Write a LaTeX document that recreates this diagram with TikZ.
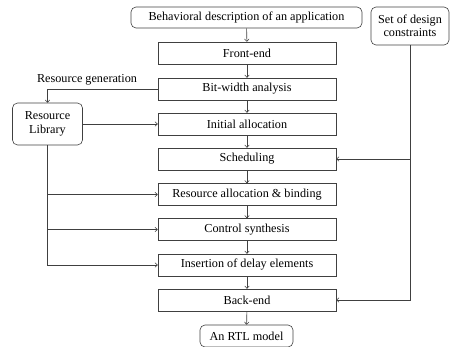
\documentclass[tikz,border=0pt]{standalone}
\usepackage{fontspec}
\setmainfont{Liberation Serif}
\usetikzlibrary{arrows.meta}
\begin{document}
\begin{tikzpicture}[x=1pt,y=-1pt,
  line width=0.6pt, draw=black!75,
  every node/.style={font=\fontsize{12.2}{13.5}\selectfont, text=black},
  stepbox/.style={draw=black!75, line width=0.6pt, minimum width=178pt, minimum height=22pt, inner sep=0pt},
  roundbox/.style={draw=black!75, line width=0.6pt, rounded corners=5pt, inner sep=0pt, align=center},
  arr/.style={draw=black!75, -{To[length=3pt,width=5pt]}}]
\useasboundingbox (0,0) rectangle (453,347);
\node[roundbox, minimum width=231pt, minimum height=21pt] (beh) at (246.5,17.5) {Behavioral description of an application};
\node[stepbox] (fe) at (247,53) {Front-end};
\node[stepbox] (bw) at (247,89) {Bit-width analysis};
\node[stepbox] (ia) at (247,124) {Initial allocation};
\node[stepbox] (sch) at (247,159) {Scheduling};
\node[stepbox] (rab) at (247,194.5) {Resource allocation \& binding};
\node[stepbox] (cs) at (247,229.5) {Control synthesis};
\node[stepbox] (ide) at (247,265) {Insertion of delay elements};
\node[stepbox] (be) at (247,300) {Back-end};
\node[roundbox, minimum width=93pt, minimum height=22pt] (rtl) at (246.5,336) {An RTL model};
\node[roundbox, minimum width=78pt, minimum height=38pt] (sdc) at (410,26) {Set of design\\constraints};
\node[roundbox, minimum width=70pt, minimum height=42pt] (lib) at (47.5,124) {Resource\\Library};
\node[anchor=base] (rg) at (87,83) {Resource generation};
\draw[arr] (beh) -- (fe);
\draw[arr] (fe) -- (bw);
\draw[arr] (bw) -- (ia);
\draw[arr] (ia) -- (sch);
\draw[arr] (sch) -- (rab);
\draw[arr] (rab) -- (cs);
\draw[arr] (cs) -- (ide);
\draw[arr] (ide) -- (be);
\draw[arr] (be) -- (rtl);
\draw[arr] (bw.west) -| (lib.north);
\draw[arr] (lib) -- (ia);
\coordinate (lb) at (lib.south |- ide.west);
\draw[arr] (lib.south) -- (lb) -- (ide.west);
\draw[arr] (lib.south |- rab.west) -- (rab.west);
\draw[arr] (lib.south |- cs.west) -- (cs.west);
\draw[arr] (sdc.south) |- (be.east);
\draw[arr] (sdc.south |- sch.east) -- (sch.east);
\end{tikzpicture}
\end{document}
